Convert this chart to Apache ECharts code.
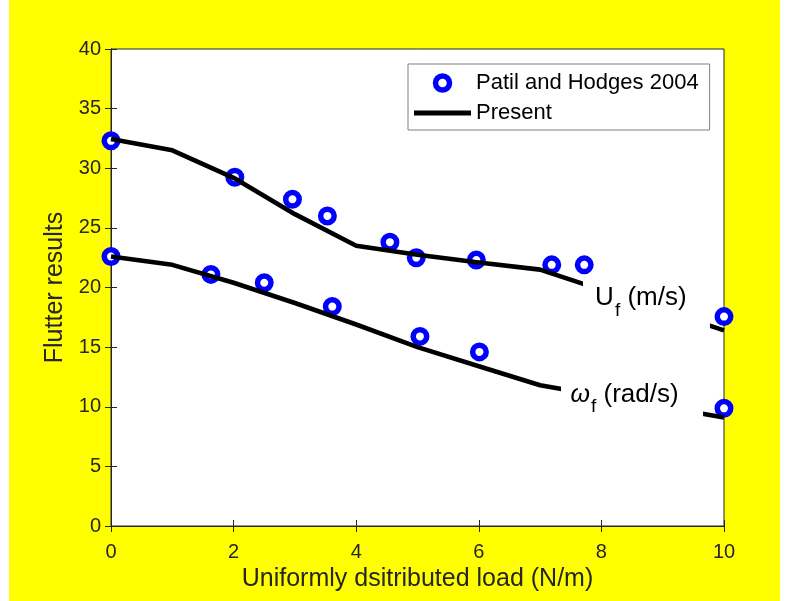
<!DOCTYPE html>
<html>
<head>
<meta charset="utf-8">
<script src="https://cdn.jsdelivr.net/npm/echarts@6/dist/echarts.min.js"></script>
<style>
  html, body { margin: 0; padding: 0; background: #ffffff; }
  #frame { position: absolute; left: 9px; top: 0; width: 771px; height: 601px; background: #ffff00; }
  #chart { width: 771px; height: 601px; }
</style>
</head>
<body>
<div id="frame"><div id="chart"></div></div>
<script>
// Load steps of the model (N/m) and the computed flutter speed / frequency
const loadX = [0, 1, 2, 3, 4, 5, 6, 7, 10];
const presentU = [32.45, 31.5, 29.2, 26.15, 23.5, 22.75, 22.1, 21.5, 16.4];
const presentW = [22.6, 21.9, 20.4, 18.7, 16.9, 15.0, 13.4, 11.8, 9.1];

// Patil and Hodges (2004) reference results
const patilUx = [0, 2.02, 2.96, 3.53, 4.55, 4.98, 5.96, 7.19, 7.72, 10];
const patilUy = [32.3, 29.25, 27.4, 26.0, 23.8, 22.5, 22.3, 21.9, 21.9, 17.56];
const patilWx = [0, 1.63, 2.5, 3.61, 5.04, 6.01, 10];
const patilWy = [22.6, 21.1, 20.4, 18.4, 15.9, 14.6, 9.87];

// Axis ticks
const xTicks = [0, 2, 4, 6, 8, 10];
const yTicks = [0, 5, 10, 15, 20, 25, 30, 35, 40];

const zip = (xs, ys) => xs.map((x, i) => [x, ys[i]]);

const FONT = "'Liberation Sans', Arial, sans-serif";
const AXIS = '#262626';

const xMin = xTicks[0], xMax = xTicks[xTicks.length - 1], xStep = xTicks[1] - xTicks[0];
const yMin = yTicks[0], yMax = yTicks[yTicks.length - 1], yStep = yTicks[1] - yTicks[0];

function valueAxis(extra) {
  return Object.assign({
    type: 'value',
    axisLine: { show: true, lineStyle: { color: AXIS, width: 1 } },
    axisTick: { show: true, inside: true, length: 6, lineStyle: { color: AXIS, width: 1 } },
    splitLine: { show: false },
    axisLabel: { show: false }
  }, extra);
}

const chart = echarts.init(document.getElementById('chart'), null, { renderer: 'canvas' });

chart.setOption({
  animation: false,
  backgroundColor: 'transparent',
  grid: {
    left: 102, top: 49, width: 613, height: 477,
    show: true, backgroundColor: '#ffffff', borderColor: AXIS, borderWidth: 1
  },
  legend: {
    orient: 'vertical',
    left: 399, top: 64,
    padding: [8, 11, 6, 6],
    itemGap: 8,
    itemWidth: 57, itemHeight: 14,
    backgroundColor: '#ffffff',
    borderColor: '#808080', borderWidth: 1, borderRadius: 0,
    textStyle: { fontSize: 22, color: '#000000', fontFamily: FONT },
    data: [
      { name: 'Patil and Hodges 2004', icon: 'circle',
        itemStyle: { color: '#ffffff', borderColor: '#0000ff', borderWidth: 5.5, opacity: 1 } },
      { name: 'Present', icon: 'path://M0,0 L57,0 L57,5 L0,5 Z',
        itemStyle: { color: '#000000', borderWidth: 0, opacity: 1 } }
    ],
    selectedMode: false
  },
  xAxis: [
    valueAxis({
      position: 'bottom', min: xMin, max: xMax, interval: xStep,
      axisLabel: { show: true, fontSize: 20, color: AXIS, fontFamily: FONT, margin: 16 },
      name: 'Uniformly dsitributed load (N/m)', nameLocation: 'middle', nameGap: 41,
      nameTextStyle: { fontSize: 25, color: AXIS, fontFamily: FONT }
    }),
    valueAxis({ position: 'top', min: xMin, max: xMax, interval: xStep })
  ],
  yAxis: [
    valueAxis({
      position: 'left', min: yMin, max: yMax, interval: yStep,
      axisLabel: { show: true, fontSize: 20, color: AXIS, fontFamily: FONT, margin: 10 },
      name: 'Flutter results', nameLocation: 'middle', nameGap: 38,
      nameTextStyle: { fontSize: 25, color: AXIS, fontFamily: FONT }
    }),
    valueAxis({ position: 'right', min: yMin, max: yMax, interval: yStep })
  ],
  series: [
    {
      name: 'Patil and Hodges 2004', type: 'scatter', z: 2,
      symbol: 'circle', symbolSize: 13.5,
      itemStyle: { color: '#ffffff', borderColor: '#0000ff', borderWidth: 5.5, opacity: 1 },
      data: zip(patilUx, patilUy).concat(zip(patilWx, patilWy)),
      emphasis: { disabled: true }
    },
    {
      name: 'Present', type: 'line', z: 3, showSymbol: false, symbol: 'none',
      lineStyle: { color: '#000000', width: 4.6, join: 'round' }, itemStyle: { color: '#000000' },
      data: zip(loadX, presentU), emphasis: { disabled: true }
    },
    {
      name: 'Present', type: 'line', z: 3, showSymbol: false, symbol: 'none',
      lineStyle: { color: '#000000', width: 4.6, join: 'round' }, itemStyle: { color: '#000000' },
      data: zip(loadX, presentW), emphasis: { disabled: true }
    },
    {
      // white text boxes naming the two curves
      type: 'scatter', z: 5, silent: true,
      symbol: 'rect',
      itemStyle: { color: '#ffffff', opacity: 1 },
      emphasis: { disabled: true },
      label: {
        show: true, position: 'inside', color: '#000000', fontFamily: FONT,
        rich: {
          m: { fontSize: 26, color: '#000000', fontFamily: FONT },
          g: { fontSize: 25, color: '#000000', fontFamily: FONT, fontStyle: 'italic' },
          s: { fontSize: 19, color: '#000000', fontFamily: FONT, padding: [25, 0, 0, 1] }
        }
      },
      data: [
        { value: [8.735, 18.46], symbolSize: [127, 50],
          label: { formatter: '{m|U}{s|f}{m| (m/s)}', offset: [-5.6, -8] } },
        { value: [8.5, 10.32], symbolSize: [142, 44],
          label: { formatter: '{g|ω}{s|f}{m| (rad/s)}', offset: [-7.5, -8.3] } }
      ]
    }
  ]
});
</script>
</body>
</html>
